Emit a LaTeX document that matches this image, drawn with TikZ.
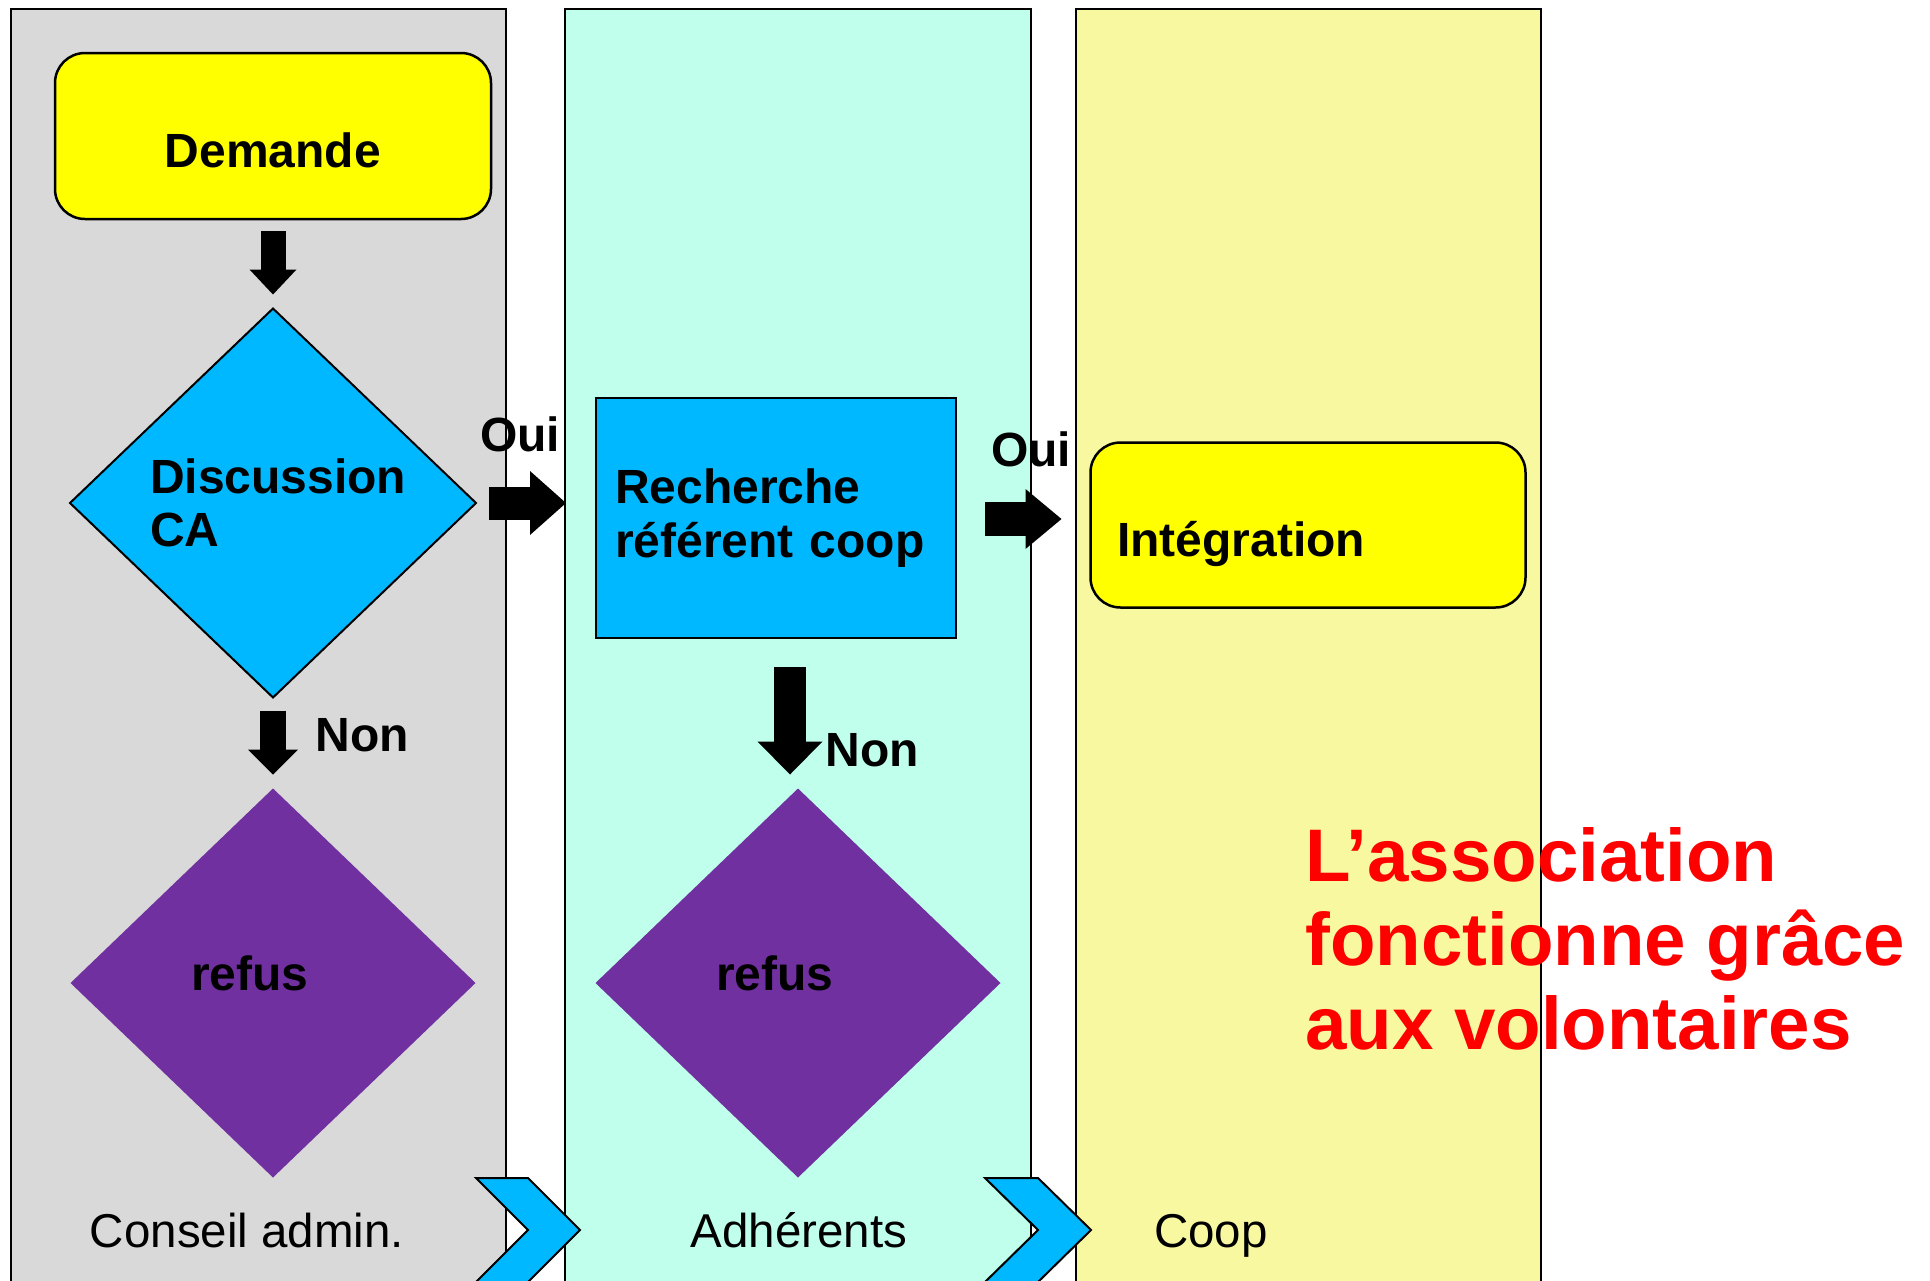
\documentclass[tikz,border=0pt]{standalone}
\usepackage{fontspec}
\setmainfont{Liberation Sans}
\usetikzlibrary{shapes.geometric,arrows.meta,calc}
\definecolor{lanegrey}{HTML}{D9D9D9}
\definecolor{lanemint}{HTML}{C0FFEC}
\definecolor{laneyellow}{HTML}{F8F8A0}
\definecolor{boxyellow}{HTML}{FFFF00}
\definecolor{boxblue}{HTML}{00B8FF}
\definecolor{boxpurple}{HTML}{7030A0}
\definecolor{msgred}{HTML}{FF0000}
\tikzset{
  lane/.style={draw=black, line width=2pt},
  bigbold/.style={font=\bfseries\fontsize{48}{54}\selectfont},
  plainlbl/.style={font=\fontsize{47.5}{54}\selectfont, inner sep=0pt, anchor=base},
  rbox/.style={draw=black, line width=2.5pt, rounded corners=30pt, fill=boxyellow,
    minimum width=436pt, minimum height=166pt, inner sep=0pt, outer sep=0pt,
    bigbold, text height=62pt, text depth=0pt},
  bluediamond/.style={diamond, draw=black, line width=2pt, fill=boxblue,
    minimum width=406pt, minimum height=389pt, inner sep=0pt, outer sep=0pt,
    text width=246pt, align=left, font=\bfseries\fontsize{48}{53}\selectfont},
  purplediamond/.style={diamond, fill=boxpurple, minimum width=405pt,
    minimum height=389pt, inner sep=0pt, outer sep=0pt, bigbold,
    text height=34pt, text depth=0pt},
  bluebox/.style={rectangle, draw=black, line width=2pt, fill=boxblue,
    minimum width=360pt, minimum height=240pt, inner sep=0pt, outer sep=0pt,
    text width=322pt, align=left, font=\bfseries\fontsize{48}{54}\selectfont},
  blockarrow/.style n args={3}{line width=#1,
    -{Triangle[width=#2,length=#3,line width=0pt]}},
  chevron/.style={draw=black, line width=2pt, fill=boxblue, line join=miter},
  lbl/.style={bigbold, inner sep=0pt}
}
\begin{document}
\begin{tikzpicture}[x=1pt,y=-1pt]
\clip (0,0) rectangle (1930,1280);
\fill[white] (0,0) rectangle (1930,1280);
% lanes
\draw[lane, fill=lanegrey] (11,9) rectangle (506,1300);
\draw[lane, fill=lanemint] (565,9) rectangle (1031,1300);
\draw[lane, fill=laneyellow] (1076,9) rectangle (1541,1300);
% nodes
\node[rbox] (dem) at (273,136) {Demande};
\node[bluediamond] (disc) at (273,503) {Discussion\\CA};
\node[purplediamond] (ref1) at (273,983) {\raisebox{10pt}{refus}\hspace*{46pt}};
\node[bluebox] (rech) at (776,518) {Recherche\\référent coop};
\node[purplediamond] (ref2) at (798,983) {\raisebox{10pt}{refus}\hspace*{46pt}};
\node[rbox, minimum width=435pt, minimum height=165pt] (int) at (1308,525) {Intégration\hspace*{134pt}};
% arrows
\draw[blockarrow={25pt}{47pt}{25pt}] ([yshift=-12pt]dem.south) -- ([yshift=14pt]dem.south |- disc.north);
\draw[blockarrow={26pt}{50pt}{25pt}] ([yshift=-13pt]ref1.north |- disc.south) -- ([yshift=14pt]ref1.north);
\draw[blockarrow={33pt}{64pt}{36pt}] ([xshift=13pt]disc.east) -- ([xshift=-30pt]disc.east -| rech.west);
\draw[blockarrow={34pt}{60pt}{36pt}] ([xshift=29pt,yshift=-1pt]rech.east) -- ([xshift=-29pt,yshift=-1pt]rech.east -| int.west);
\draw[blockarrow={32pt}{65pt}{33pt}] ([xshift=14pt,yshift=-29pt]rech.south) -- ([xshift=-8pt,yshift=14pt]ref2.north);
% arrow labels
\node[lbl] (oui1) at (520,434) {Oui};
\node[lbl] (oui2) at (1031,449) {Oui};
\node[lbl] (non1) at (362,735) {Non};
\node[lbl] (non2) at (872,750) {Non};
% chevrons
\draw[chevron] (476,1178) -- (528,1178) -- (580,1230) -- (528,1282) -- (476,1282) -- (528,1230) -- cycle;
\draw[chevron] (985,1178) -- (1038,1178) -- (1091,1230) -- (1038,1282) -- (985,1282) -- (1038,1230) -- cycle;
% lane labels
\node[plainlbl] (lane1) at (247,1247) {Conseil admin.};
\node[plainlbl] (lane2) at (799,1247) {Adhérents};
\node[plainlbl] (lane3) at (1211,1247) {Coop};
% message
\node[anchor=north west, inner sep=0pt, align=left, text=msgred,
  font=\bfseries\fontsize{74.5}{84}\selectfont] (msg) at (1305,827)
  {L’association\\fonctionne grâce\\aux volontaires};
\end{tikzpicture}
\end{document}
